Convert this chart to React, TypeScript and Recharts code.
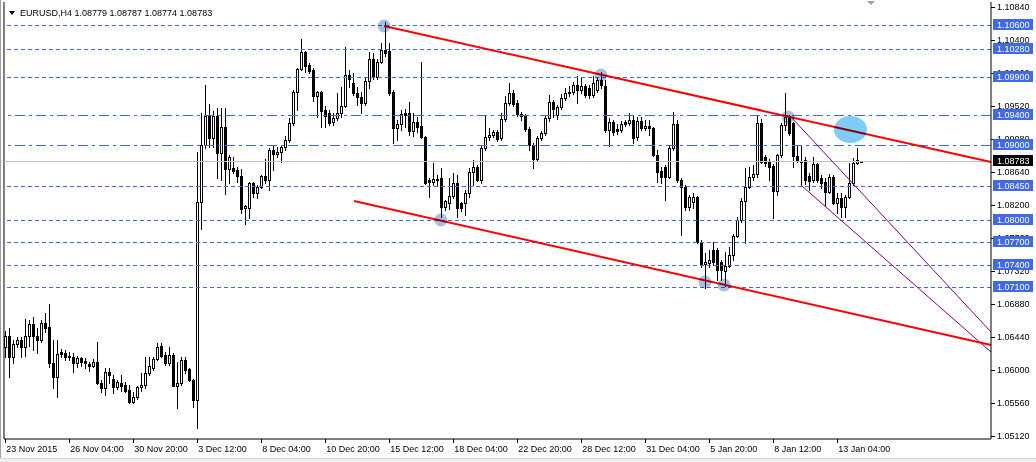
import React from 'react';
import { ComposedChart, Bar, XAxis, YAxis, ReferenceLine, ReferenceDot } from 'recharts';

// EURUSD H4 candles, oldest first
const opens = [
  1.0631, 1.0645, 1.0617, 1.0635, 1.0640, 1.0631, 1.0645, 1.0661, 1.0645, 1.0640,
  1.0663, 1.0657, 1.0609, 1.0591, 1.0624, 1.0623, 1.0619, 1.0617, 1.0609, 1.0616,
  1.0612, 1.0608, 1.0605, 1.0611, 1.0583, 1.0576, 1.0597, 1.0588, 1.0577, 1.0583,
  1.0580, 1.0573, 1.0557, 1.0564, 1.0577, 1.0580, 1.0596, 1.0603, 1.0615, 1.0632,
  1.0620, 1.0609, 1.0620, 1.0579, 1.0583, 1.0613, 1.0601, 1.0587, 1.0560, 1.0824,
  1.0900, 1.0939, 1.0909, 1.0939, 1.0889, 1.0924, 1.0868, 1.0869, 1.0867, 1.0859,
  1.0816, 1.0816, 1.0849, 1.0836, 1.0844, 1.0859, 1.0853, 1.0893, 1.0888, 1.0891,
  1.0897, 1.0907, 1.0929, 1.0971, 1.1001, 1.1024, 1.1007, 1.1000, 1.0965, 1.0971,
  1.0947, 1.0943, 1.0931, 1.0936, 1.0943, 1.0952, 1.0993, 1.0983, 1.0969, 1.0964,
  1.0956, 1.0985, 1.1015, 1.0991, 1.1011, 1.1027, 1.1025, 1.0971, 1.0923, 1.0928,
  1.0943, 1.0943, 1.0919, 1.0931, 1.0925, 1.0911, 1.0853, 1.0851, 1.0853, 1.0856,
  1.0817, 1.0823, 1.0832, 1.0849, 1.0823, 1.0823, 1.0836, 1.0864, 1.0871, 1.0853,
  1.0896, 1.0911, 1.0913, 1.0917, 1.0909, 1.0935, 1.0956, 1.0969, 1.0956, 1.0941,
  1.0940, 1.0921, 1.0900, 1.0881, 1.0909, 1.0916, 1.0936, 1.0957, 1.0940, 1.0951,
  1.0963, 1.0969, 1.0971, 1.0980, 1.0973, 1.0979, 1.0976, 1.0967, 1.0973, 1.0987,
  1.0979, 1.0920, 1.0931, 1.0921, 1.0920, 1.0931, 1.0929, 1.0933, 1.0911, 1.0932,
  1.0923, 1.0925, 1.0923, 1.0887, 1.0865, 1.0871, 1.0857, 1.0896, 1.0928, 1.0853,
  1.0844, 1.0817, 1.0824, 1.0831, 1.0771, 1.0741, 1.0743, 1.0760, 1.0760, 1.0744,
  1.0732, 1.0738, 1.0753, 1.0779, 1.0800, 1.0825, 1.0844, 1.0857, 1.0861, 1.0929,
  1.0884, 1.0877, 1.0872, 1.0839, 1.0887, 1.0927, 1.0937, 1.0929, 1.0885, 1.0879,
  1.0880, 1.0859, 1.0853, 1.0875, 1.0856, 1.0851, 1.0837, 1.0857, 1.0823, 1.0829,
  1.0817, 1.0831, 1.0849, 1.0876, 1.08779,
];
const highs = [
  1.0652, 1.0656, 1.0640, 1.0644, 1.0644, 1.0668, 1.0667, 1.0671, 1.0656, 1.0667,
  1.0676, 1.0688, 1.0640, 1.0640, 1.0628, 1.0627, 1.0624, 1.0623, 1.0619, 1.0617,
  1.0616, 1.0611, 1.0615, 1.0637, 1.0587, 1.0603, 1.0603, 1.0593, 1.0587, 1.0593,
  1.0584, 1.0580, 1.0571, 1.0579, 1.0596, 1.0617, 1.0617, 1.0617, 1.0636, 1.0636,
  1.0624, 1.0631, 1.0622, 1.0611, 1.0617, 1.0617, 1.0602, 1.0588, 1.0891, 1.0943,
  1.0980, 1.0955, 1.0945, 1.0949, 1.0949, 1.0949, 1.0887, 1.0884, 1.0871, 1.0868,
  1.0820, 1.0851, 1.0851, 1.0847, 1.0860, 1.0881, 1.0896, 1.0899, 1.0897, 1.0900,
  1.0912, 1.0936, 1.0973, 1.1003, 1.1041, 1.1025, 1.1009, 1.1003, 1.0972, 1.0972,
  1.0952, 1.0947, 1.0943, 1.0969, 1.0977, 1.1031, 1.1000, 1.0996, 1.0977, 1.0971,
  1.0991, 1.1024, 1.1023, 1.1015, 1.1036, 1.1064, 1.1036, 1.0973, 1.0933, 1.0947,
  1.0948, 1.0957, 1.0943, 1.0937, 1.1011, 1.0912, 1.0856, 1.0876, 1.0860, 1.0869,
  1.0827, 1.0856, 1.0863, 1.0860, 1.0824, 1.0840, 1.0869, 1.0880, 1.0873, 1.0900,
  1.0939, 1.0923, 1.0920, 1.0920, 1.0943, 1.0965, 1.0983, 1.0973, 1.0960, 1.0944,
  1.0941, 1.0924, 1.0903, 1.0912, 1.0919, 1.0939, 1.0967, 1.0960, 1.0953, 1.0968,
  1.0976, 1.0979, 1.0984, 1.0992, 1.0991, 1.0981, 1.0980, 1.0992, 1.0991, 1.0997,
  1.0987, 1.0936, 1.0933, 1.0928, 1.0932, 1.0933, 1.0943, 1.0940, 1.0937, 1.0937,
  1.0933, 1.0933, 1.0924, 1.0893, 1.0871, 1.0873, 1.0900, 1.0944, 1.0933, 1.0856,
  1.0847, 1.0833, 1.0836, 1.0832, 1.0773, 1.0756, 1.0760, 1.0771, 1.0763, 1.0747,
  1.0757, 1.0764, 1.0781, 1.0804, 1.0829, 1.0869, 1.0871, 1.0873, 1.0939, 1.0935,
  1.0887, 1.0881, 1.0875, 1.0888, 1.0929, 1.0969, 1.0940, 1.0931, 1.0899, 1.0899,
  1.0884, 1.0863, 1.0884, 1.0876, 1.0860, 1.0856, 1.0861, 1.0860, 1.0836, 1.0836,
  1.0833, 1.0876, 1.0883, 1.0896, 1.08787,
];
const lows = [
  1.0617, 1.0591, 1.0609, 1.0631, 1.0617, 1.0619, 1.0632, 1.0627, 1.0623, 1.0637,
  1.0651, 1.0604, 1.0576, 1.0564, 1.0617, 1.0613, 1.0613, 1.0597, 1.0604, 1.0605,
  1.0603, 1.0599, 1.0604, 1.0581, 1.0571, 1.0567, 1.0583, 1.0569, 1.0575, 1.0572,
  1.0571, 1.0556, 1.0556, 1.0561, 1.0572, 1.0576, 1.0593, 1.0600, 1.0613, 1.0617,
  1.0607, 1.0607, 1.0578, 1.0549, 1.0580, 1.0596, 1.0585, 1.0551, 1.0523, 1.0788,
  1.0896, 1.0897, 1.0897, 1.0856, 1.0853, 1.0835, 1.0849, 1.0863, 1.0851, 1.0809,
  1.0795, 1.0803, 1.0831, 1.0829, 1.0843, 1.0849, 1.0840, 1.0867, 1.0884, 1.0877,
  1.0893, 1.0904, 1.0927, 1.0947, 1.1000, 1.0997, 1.0996, 1.0959, 1.0937, 1.0924,
  1.0924, 1.0927, 1.0927, 1.0933, 1.0937, 1.0951, 1.0977, 1.0967, 1.0953, 1.0943,
  1.0953, 1.0976, 1.0988, 1.0988, 1.1009, 1.1019, 1.0967, 1.0903, 1.0907, 1.0920,
  1.0924, 1.0913, 1.0912, 1.0917, 1.0909, 1.0848, 1.0831, 1.0847, 1.0845, 1.0804,
  1.0813, 1.0815, 1.0829, 1.0804, 1.0812, 1.0807, 1.0831, 1.0847, 1.0852, 1.0849,
  1.0893, 1.0907, 1.0911, 1.0905, 1.0907, 1.0932, 1.0953, 1.0952, 1.0939, 1.0933,
  1.0919, 1.0893, 1.0869, 1.0879, 1.0907, 1.0913, 1.0932, 1.0937, 1.0935, 1.0948,
  1.0960, 1.0965, 1.0968, 1.0956, 1.0969, 1.0964, 1.0963, 1.0964, 1.0971, 1.0976,
  1.0917, 1.0899, 1.0913, 1.0915, 1.0917, 1.0925, 1.0927, 1.0903, 1.0907, 1.0920,
  1.0920, 1.0913, 1.0885, 1.0851, 1.0849, 1.0827, 1.0856, 1.0893, 1.0851, 1.0780,
  1.0813, 1.0813, 1.0816, 1.0769, 1.0737, 1.0709, 1.0737, 1.0740, 1.0720, 1.0720,
  1.0712, 1.0737, 1.0747, 1.0777, 1.0797, 1.0769, 1.0843, 1.0853, 1.0857, 1.0876,
  1.0872, 1.0853, 1.0803, 1.0833, 1.0884, 1.0920, 1.0913, 1.0871, 1.0877, 1.0847,
  1.0848, 1.0840, 1.0851, 1.0851, 1.0843, 1.0819, 1.0836, 1.0821, 1.0809, 1.0804,
  1.0804, 1.0829, 1.0847, 1.0875, 1.08774,
];
const closes = [
  1.0645, 1.0617, 1.0635, 1.0640, 1.0631, 1.0645, 1.0661, 1.0645, 1.0640, 1.0663,
  1.0656, 1.0609, 1.0591, 1.0621, 1.0621, 1.0617, 1.0617, 1.0609, 1.0616, 1.0611,
  1.0609, 1.0605, 1.0611, 1.0583, 1.0576, 1.0597, 1.0593, 1.0577, 1.0584, 1.0579,
  1.0572, 1.0557, 1.0564, 1.0577, 1.0580, 1.0596, 1.0605, 1.0615, 1.0631, 1.0619,
  1.0609, 1.0620, 1.0579, 1.0583, 1.0613, 1.0600, 1.0587, 1.0560, 1.0824, 1.0900,
  1.0939, 1.0909, 1.0939, 1.0889, 1.0924, 1.0868, 1.0884, 1.0865, 1.0859, 1.0815,
  1.0819, 1.0849, 1.0836, 1.0844, 1.0859, 1.0853, 1.0893, 1.0888, 1.0891, 1.0897,
  1.0907, 1.0929, 1.0971, 1.1001, 1.1024, 1.1005, 1.0999, 1.0965, 1.0971, 1.0945,
  1.0939, 1.0929, 1.0936, 1.0943, 1.0952, 1.0993, 1.0988, 1.0969, 1.0964, 1.0956,
  1.0985, 1.1015, 1.0991, 1.1011, 1.1027, 1.1023, 1.0969, 1.0923, 1.0928, 1.0941,
  1.0940, 1.0919, 1.0931, 1.0924, 1.0911, 1.0849, 1.0851, 1.0855, 1.0855, 1.0817,
  1.0825, 1.0832, 1.0849, 1.0816, 1.0816, 1.0836, 1.0864, 1.0871, 1.0853, 1.0896,
  1.0911, 1.0913, 1.0917, 1.0908, 1.0935, 1.0956, 1.0969, 1.0955, 1.0941, 1.0939,
  1.0921, 1.0900, 1.0881, 1.0909, 1.0916, 1.0936, 1.0957, 1.0948, 1.0951, 1.0963,
  1.0969, 1.0971, 1.0980, 1.0973, 1.0979, 1.0967, 1.0967, 1.0983, 1.0987, 1.0980,
  1.0920, 1.0931, 1.0917, 1.0919, 1.0928, 1.0928, 1.0933, 1.0909, 1.0932, 1.0923,
  1.0925, 1.0923, 1.0887, 1.0864, 1.0857, 1.0857, 1.0896, 1.0928, 1.0853, 1.0844,
  1.0817, 1.0831, 1.0831, 1.0771, 1.0740, 1.0744, 1.0747, 1.0744, 1.0733, 1.0733,
  1.0738, 1.0753, 1.0779, 1.0800, 1.0825, 1.0844, 1.0857, 1.0861, 1.0929, 1.0877,
  1.0876, 1.0871, 1.0839, 1.0887, 1.0927, 1.0937, 1.0916, 1.0885, 1.0879, 1.0877,
  1.0853, 1.0852, 1.0875, 1.0853, 1.0849, 1.0837, 1.0857, 1.0823, 1.0829, 1.0817,
  1.0831, 1.0849, 1.0876, 1.0880, 1.08783,
];

const dateTicks = [0, 16, 32, 48, 64, 80, 96, 112, 128, 144, 160, 176, 192, 208];
const dateLabels = [
  '23 Nov 2015', '26 Nov 04:00', '30 Nov 20:00', '3 Dec 12:00', '8 Dec 04:00',
  '10 Dec 20:00', '15 Dec 12:00', '18 Dec 04:00', '22 Dec 20:00', '28 Dec 12:00',
  '31 Dec 04:00', '5 Jan 20:00', '8 Jan 12:00', '13 Jan 04:00',
];
const priceTicks = [
  1.0512, 1.0556, 1.06, 1.0644, 1.0688, 1.0732, 1.0776,
  1.082, 1.0864, 1.0908, 1.0952, 1.0996, 1.104, 1.1084,
];
const levels = [1.106, 1.1028, 1.099, 1.094, 1.09, 1.0845, 1.08, 1.077, 1.074, 1.071];
const dashDotLevels = [1.094, 1.09];
const lastPrice = 1.08783;

// channel lines, [bar index, price]
const redLines = [
  [[94.7, 1.10586], [246.425, 1.08773]],
  [[87.2, 1.08253], [246.425, 1.06333]],
];
const purpleLines = [
  [[196.2, 1.09386], [246.425, 1.06507]],
  [[198.9, 1.08466], [246.425, 1.0624]],
];
const touchPoints = [
  [94.7, 1.10586], [148.9, 1.09933], [108.9, 1.08], [174.9, 1.07173], [179.7, 1.07133], [195.7, 1.09373],
];
const highlight = [211.3, 1.09206];

const candles = opens.map((open, i) => ({
  i,
  open,
  high: highs[i],
  low: lows[i],
  close: closes[i],
  range: [lows[i], highs[i]],
}));

const FONT = 'Liberation Sans, Arial, sans-serif';
const BLUE = '#4169E1';
const near = (a: number, b: number) => Math.abs(a - b) < 1e-7;

const Candle = (props: any) => {
  const { x, y, width, height, payload } = props;
  if (x == null || y == null) return null;
  const top = Math.min(y, y + height);
  const bot = Math.max(y, y + height);
  const span = payload.high - payload.low || 1e-9;
  const py = (v: number) => top + ((payload.high - v) / span) * (bot - top);
  const left = Math.round(x + width / 2) - 1;
  const yo = py(payload.open);
  const yc = py(payload.close);
  const bTop = Math.round(Math.min(yo, yc));
  const bBot = Math.round(Math.max(yo, yc));
  const bull = payload.close >= payload.open;
  return (
    <g>
      <line x1={left + 1.5} x2={left + 1.5} y1={Math.round(top)} y2={Math.round(bot) + 1} stroke="#000" strokeWidth={1} />
      {bull ? (
        <rect x={left + 0.5} y={bTop + 0.5} width={2} height={Math.max(bBot - bTop, 1)} fill="#fff" stroke="#000" strokeWidth={1} />
      ) : (
        <rect x={left} y={bTop} width={3} height={Math.max(bBot - bTop + 1, 1)} fill="#000" />
      )}
    </g>
  );
};

// right price scale: plain ticks first, then the level tags painted over them
const PriceTick = (props: any) => {
  const { x, y, payload } = props;
  const v = Number(payload.value);
  const isLevel = levels.some((l) => near(l, v));
  const isLast = near(v, lastPrice);
  if (isLevel || isLast) {
    return (
      <g>
        <rect x={x + 2} y={Math.round(y) - 6} width={40} height={11} fill={isLast ? '#000' : BLUE} />
        <text x={x + 6} y={Math.round(y) + 3} fontSize={9} fontFamily={FONT} fill="#fff" textAnchor="start">
          {v.toFixed(5)}
        </text>
      </g>
    );
  }
  return (
    <g>
      <line x1={x} x2={x + 4} y1={Math.round(y) + 0.5} y2={Math.round(y) + 0.5} stroke="#000" />
      <text x={x + 6} y={y + 3.5} fontSize={9} fontFamily={FONT} fill="#000" textAnchor="start">
        {v.toFixed(5)}
      </text>
    </g>
  );
};

const DateTick = (props: any) => {
  const { x, y, payload } = props;
  const k = dateTicks.indexOf(payload.value);
  const tx = Math.round(x) + 0.5;
  return (
    <g>
      <line x1={tx} x2={tx} y1={y} y2={y + 4} stroke="#000" />
      <text x={x + 1} y={y + 13} fontSize={9} fontFamily={FONT} fill="#000" textAnchor="start">
        {k >= 0 ? dateLabels[k] : ''}
      </text>
    </g>
  );
};

const FlatLine = (p: any) => {
  const yy = Math.round(p.y1) + 0.5;
  return <line x1={p.x1} x2={p.x2} y1={yy} y2={yy} stroke={p.stroke} strokeWidth={1} strokeDasharray={p.strokeDasharray} />;
};

export default function App() {
  return (
    <div style={{ position: 'absolute', left: 0, top: 0, width: 1036, height: 462, background: '#fff', overflow: 'hidden' }}>
      <ComposedChart
        width={1036}
        height={462}
        data={candles}
        margin={{ top: 2, right: 0, bottom: 0, left: 4 }}
      >
        <XAxis
          dataKey="i"
          type="number"
          domain={[-0.325, 246.425]}
          allowDataOverflow
          ticks={dateTicks}
          interval={0}
          height={23}
          tickSize={0}
          tickMargin={0}
          tickLine={false}
          axisLine={{ stroke: '#000' }}
          tick={<DateTick />}
        />
        <YAxis
          type="number"
          orientation="right"
          domain={[1.0508, 1.10906]}
          allowDataOverflow
          ticks={[...priceTicks, ...levels, lastPrice]}
          interval={0}
          width={45}
          tickSize={0}
          tickMargin={0}
          tickLine={false}
          axisLine={{ stroke: '#000' }}
          tick={<PriceTick />}
        />
        <ReferenceLine x={-0.325} stroke="#000" ifOverflow="visible" />
        {levels.map((lv) => (
          <ReferenceLine
            key={lv}
            y={lv}
            stroke={BLUE}
            strokeDasharray={dashDotLevels.includes(lv) ? '10 4 3 4' : '4 3'}
            ifOverflow="visible"
            shape={(p: any) => <FlatLine {...p} />}
          />
        ))}
        <ReferenceLine y={lastPrice} stroke="#c0c0c0" ifOverflow="visible" shape={(p: any) => <FlatLine {...p} />} />
        <Bar dataKey="range" barSize={3} isAnimationActive={false} shape={(p: any) => <Candle {...p} />} />
        {purpleLines.map((seg, k) => (
          <ReferenceLine
            key={'p' + k}
            segment={[{ x: seg[0][0], y: seg[0][1] }, { x: seg[1][0], y: seg[1][1] }]}
            stroke="#800080"
            strokeWidth={1}
            ifOverflow="visible"
          />
        ))}
        {redLines.map((seg, k) => (
          <ReferenceLine
            key={'r' + k}
            segment={[{ x: seg[0][0], y: seg[0][1] }, { x: seg[1][0], y: seg[1][1] }]}
            stroke="#ff0000"
            strokeWidth={2}
            ifOverflow="visible"
          />
        ))}
        <ReferenceDot
          x={highlight[0]}
          y={highlight[1]}
          r={15}
          ifOverflow="visible"
          shape={(p: any) => (
            <ellipse cx={p.cx} cy={p.cy} rx={16.5} ry={13.5} fill="#80cbf7" style={{ mixBlendMode: 'multiply' }} />
          )}
        />
        {touchPoints.map(([px, py], k) => (
          <ReferenceDot
            key={k}
            x={px}
            y={py}
            r={6}
            ifOverflow="visible"
            shape={(p: any) => (
              <circle cx={p.cx} cy={p.cy} r={6.5} fill="#a9bfe0" style={{ mixBlendMode: 'multiply' }} />
            )}
          />
        ))}
      </ComposedChart>
      <svg width={1036} height={462} style={{ position: 'absolute', left: 0, top: 0, pointerEvents: 'none' }}>
        <line x1={0.5} x2={0.5} y1={0} y2={462} stroke="#a0a0a0" />
        <rect x={0} y={458} width={1036} height={4} fill="#f0f0f0" />
        <line x1={0} x2={1036} y1={458.5} y2={458.5} stroke="#d8d8d8" />
        <polygon points="9,11 15,11 12,15" fill="#000" />
        <text x={20} y={16} fontSize={9} fontFamily={FONT} fill="#000">
          EURUSD,H4  1.08779 1.08787 1.08774 1.08783
        </text>
        <polygon points="867,1 875,1 871,5" fill="#a0a0a0" />
      </svg>
    </div>
  );
}
